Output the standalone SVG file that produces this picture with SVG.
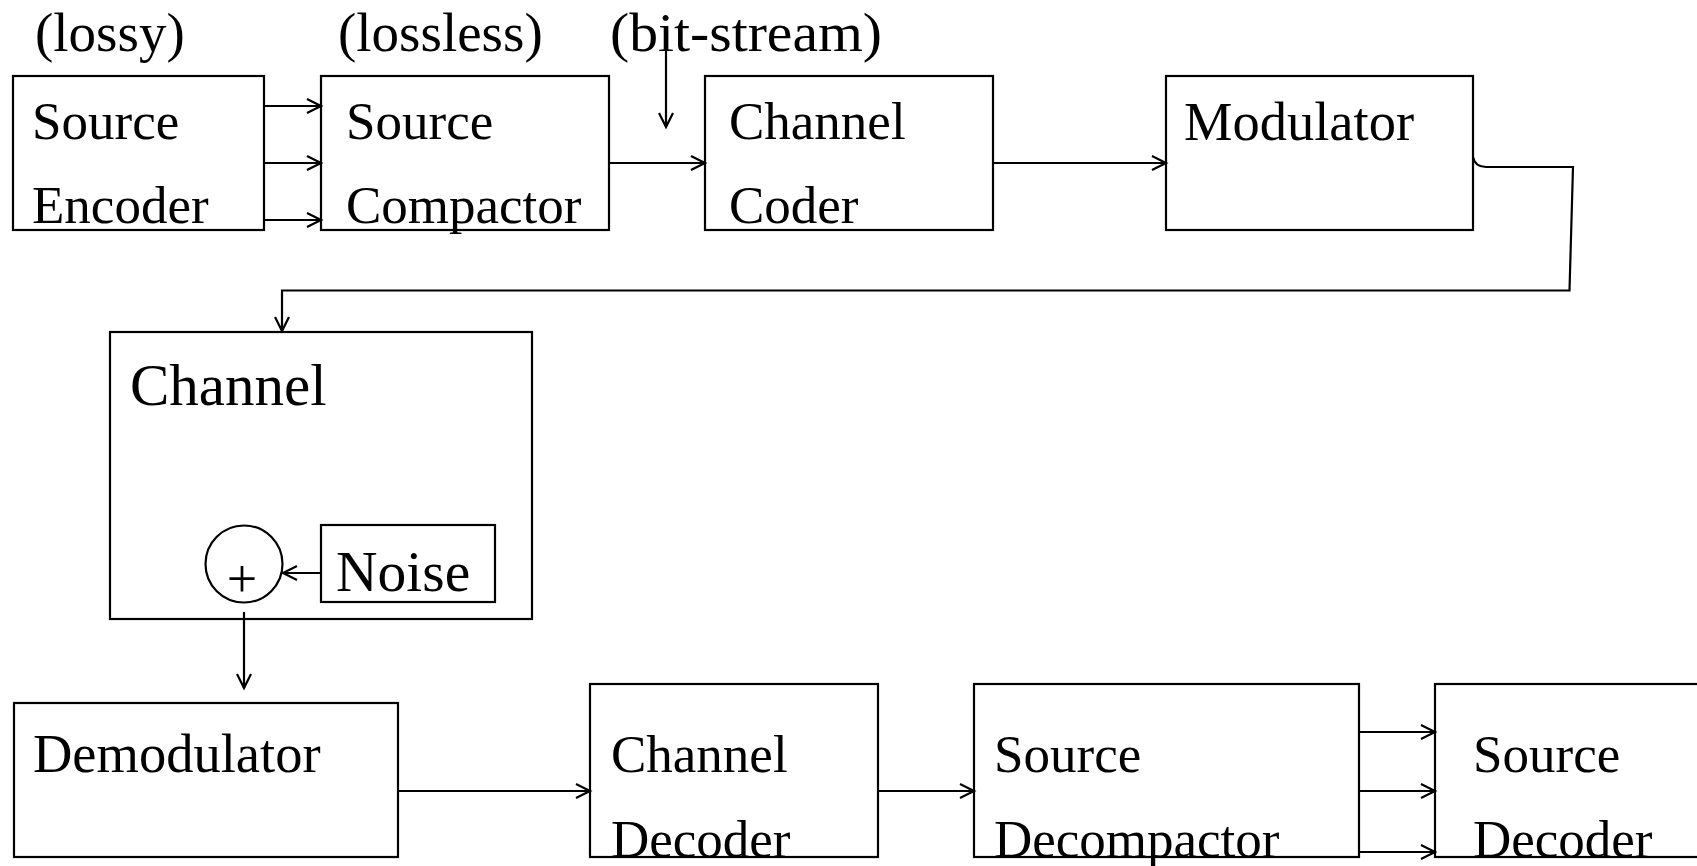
<svg xmlns="http://www.w3.org/2000/svg" width="1697" height="866" viewBox="0 0 1697 866">
  <style>
    .box { fill: #ffffff; stroke: #000000; stroke-width: 2.2; }
    .wire { fill: none; stroke: #000000; stroke-width: 2.2; }
    .lbl { font-family: "Liberation Serif", "Times New Roman", serif; font-size: 53px; fill: #000000; }
    .wide { font-size: 54.5px; }
    .big { font-size: 59px; }
    .note { font-family: "Liberation Serif", "Times New Roman", serif; font-size: 55px; fill: #000000; }
  </style>
  <defs>
    <marker id="arrow" markerUnits="userSpaceOnUse" markerWidth="18" markerHeight="18" refX="15" refY="8" orient="auto">
      <path d="M1,1 L15,8 L1,15" fill="none" stroke="#000000" stroke-width="2.2"/>
    </marker>
  </defs>
  <rect width="1697" height="866" fill="#ffffff"/>

  <!-- annotations above the transmit chain -->
  <g id="annotations">
    <text class="note" x="35" y="51">(lossy)</text>
    <text class="note" x="338" y="51">(lossless)</text>
    <text class="note" x="610" y="51" textLength="272" lengthAdjust="spacingAndGlyphs">(bit-stream)</text>
  </g>

  <!-- transmit chain -->
  <g id="source-encoder">
    <rect class="box" x="13" y="76" width="251" height="154"/>
    <text class="lbl" x="32" y="139">Source</text>
    <text class="lbl" x="32" y="223">Encoder</text>
  </g>
  <g id="source-compactor">
    <rect class="box" x="321" y="76" width="288" height="154"/>
    <text class="lbl" x="346" y="139">Source</text>
    <text class="lbl" x="346" y="223">Compactor</text>
  </g>
  <g id="channel-coder">
    <rect class="box" x="705" y="76" width="288" height="154"/>
    <text class="lbl" x="729" y="139">Channel</text>
    <text class="lbl" x="729" y="223">Coder</text>
  </g>
  <g id="modulator">
    <rect class="box" x="1166" y="76" width="307" height="154"/>
    <text class="lbl wide" x="1184" y="140">Modulator</text>
  </g>

  <!-- channel with additive noise -->
  <g id="channel">
    <rect class="box" x="110" y="332" width="422" height="287"/>
    <text class="lbl big" x="130" y="405">Channel</text>
  </g>
  <g id="adder">
    <circle class="box" cx="244" cy="564" r="38.5"/>
    <text class="lbl" x="242" y="597" text-anchor="middle" style="font-size:54px">+</text>
  </g>
  <g id="noise">
    <rect class="box" x="321" y="525" width="174" height="77"/>
    <text class="lbl" x="336" y="591" style="font-size:57.5px">Noise</text>
  </g>

  <!-- receive chain -->
  <g id="demodulator">
    <rect class="box" x="14" y="703" width="384" height="154"/>
    <text class="lbl wide" x="33" y="772">Demodulator</text>
  </g>
  <g id="channel-decoder">
    <rect class="box" x="590" y="684" width="288" height="173"/>
    <text class="lbl" x="611" y="772">Channel</text>
    <text class="lbl" x="611" y="857">Decoder</text>
  </g>
  <g id="source-decompactor">
    <rect class="box" x="974" y="684" width="385" height="173"/>
    <text class="lbl" x="994" y="772">Source</text>
    <text class="lbl" x="994" y="857">Decompactor</text>
  </g>
  <g id="source-decoder">
    <rect class="box" x="1435" y="684" width="300" height="173"/>
    <text class="lbl" x="1473" y="772">Source</text>
    <text class="lbl" x="1473" y="857">Decoder</text>
  </g>

  <!-- connectors -->
  <g id="connectors">
    <line class="wire" x1="264" y1="106" x2="321" y2="106" marker-end="url(#arrow)"/>
    <line class="wire" x1="264" y1="163" x2="321" y2="163" marker-end="url(#arrow)"/>
    <line class="wire" x1="264" y1="220" x2="321" y2="220" marker-end="url(#arrow)"/>
    <line class="wire" x1="609" y1="163" x2="705" y2="163" marker-end="url(#arrow)"/>
    <line class="wire" x1="666" y1="32" x2="666" y2="127" marker-end="url(#arrow)"/>
    <line class="wire" x1="993" y1="163" x2="1166" y2="163" marker-end="url(#arrow)"/>
    <path class="wire" d="M1473,157 Q1475,167 1486,167 L1573,167 L1569.5,290.5 L282,290.5 L282,331" marker-end="url(#arrow)"/>
    <line class="wire" x1="321" y1="573" x2="283" y2="573" marker-end="url(#arrow)"/>
    <line class="wire" x1="244" y1="612" x2="244" y2="688" marker-end="url(#arrow)"/>
    <line class="wire" x1="398" y1="791" x2="590" y2="791" marker-end="url(#arrow)"/>
    <line class="wire" x1="878" y1="791" x2="974" y2="791" marker-end="url(#arrow)"/>
    <line class="wire" x1="1359" y1="732" x2="1435" y2="732" marker-end="url(#arrow)"/>
    <line class="wire" x1="1359" y1="791" x2="1435" y2="791" marker-end="url(#arrow)"/>
    <line class="wire" x1="1359" y1="852" x2="1435" y2="852" marker-end="url(#arrow)"/>
  </g>
</svg>
